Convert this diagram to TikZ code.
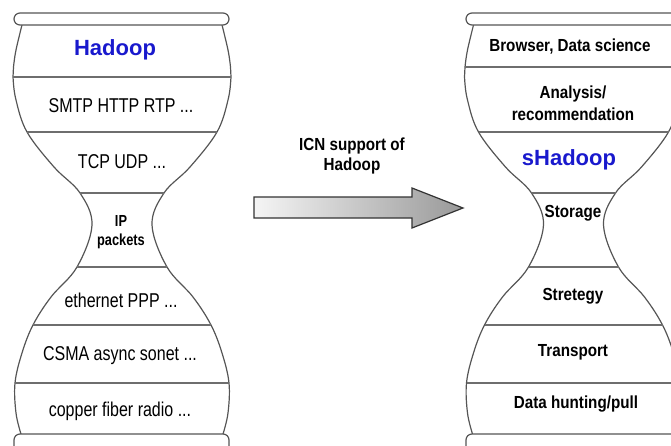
\documentclass[tikz,border=0pt]{standalone}
\usepackage{fontspec}
\setmainfont{Liberation Sans}
\newfontfamily\layerfont[FakeStretch=0.8]{Liberation Sans}
\newfontfamily\labelfont[FakeStretch=0.87]{Liberation Sans}
\usepackage{xcolor}
\definecolor{glassgray}{RGB}{85,85,85}
\definecolor{rulegray}{RGB}{110,110,110}
\definecolor{hadoopblue}{RGB}{25,25,205}
\usepackage{tikz}

%% one hourglass outline, origin at the centre line
\tikzset{
  glass/.pic={
    \foreach \s in {-1,1}
      \draw[outline] plot[smooth, tension=0.6] coordinates {
        ({\s*100},25) ({\s*106},50) ({\s*108.5},67) ({\s*109},77)
        ({\s*106},100) ({\s*95},132) ({\s*68},167) ({\s*42},193)
        ({\s*30},225) ({\s*45},267) ({\s*71},297) ({\s*89},325)
        ({\s*100},353) ({\s*107},383) ({\s*106},413) ({\s*101},434)};
  }
}

\begin{document}
\begin{tikzpicture}[
    x=0.75pt, y=-0.75pt,
    outline/.style={glassgray, line width=0.9pt},
    divider/.style={rulegray, line width=0.9pt},
    capbar/.style={draw=glassgray, fill=white, line width=0.9pt,
                   rounded corners=4.5pt},
    layer/.style={font=\layerfont\fontsize{15}{18}\selectfont,
                  inner sep=0pt, align=center},
    tag/.style={font=\labelfont\bfseries\fontsize{13.1}{16.5}\selectfont,
                inner sep=0pt, align=center},
    neck/.style={font=\layerfont\bfseries\fontsize{12}{14.2}\selectfont,
                 inner sep=0pt, align=center},
    hadoop/.style={font=\bfseries\fontsize{16.5}{20}\selectfont,
                   text=hadoopblue, inner sep=0pt},
    bigarrow/.style={draw=black!80, line width=0.9pt,
                     left color=black!4, right color=black!40},
  ]
  \clip (0,0) rectangle (671,446);

  %% LEFT -- classic internet hourglass
  \pic at (122,0) {glass};
  \foreach \y/\w in {77/109, 132/95, 193/42, 267/45, 325/89, 383/107}
    \draw[divider] ({122-\w},\y) -- ({122+\w},\y);
  \draw[capbar] (14,13) rectangle (229,25);
  \draw[capbar] (14,434) rectangle (229,452);

  \node[hadoop] (lhad)  at (115,50)  {Hadoop};
  \node[layer]  (app)   at (121,106) {SMTP HTTP RTP ...};
  \node[layer]  (trans) at (122,162) {TCP UDP ...};
  \node[neck]   (ip)    at (121,232) {IP\\packets};
  \node[layer]  (link)  at (121,300) {ethernet PPP ...};
  \node[layer]  (mac)   at (120,356) {CSMA async sonet ...};
  \node[layer]  (phy)   at (120,411) {copper fiber radio ...};

  %% MIDDLE -- transition arrow
  \node[tag] (icn) at (352,156) {ICN support of\\[-2pt]Hadoop};
  \draw[bigarrow] (254,197) -- (412,197) -- (412,188) -- (463,208)
                  -- (412,228) -- (412,218) -- (254,218) -- cycle;

  %% RIGHT -- sHadoop hourglass
  \pic at (573.5,0) {glass};
  \foreach \y/\w in {67/108.5, 132/95, 193/42, 267/45, 325/89, 383/107}
    \draw[divider] ({573.5-\w},\y) -- ({573.5+\w},\y);
  \draw[capbar] (466,13) rectangle (681,25);
  \draw[capbar] (466,434) rectangle (681,452);

  \node[tag]    (brow)  at (570,47)  {Browser, Data science};
  \node[tag]    (anal)  at (573,103) {Analysis/\\recommendation};
  \node[hadoop] (shad)  at (569,160) {sHadoop};
  \node[tag]    (stor)  at (573,213) {Storage};
  \node[tag]    (strat) at (573,296) {Stretegy};
  \node[tag]    (tport) at (573,352) {Transport};
  \node[tag]    (hunt)  at (576,404) {Data hunting/pull};

\end{tikzpicture}
\end{document}
